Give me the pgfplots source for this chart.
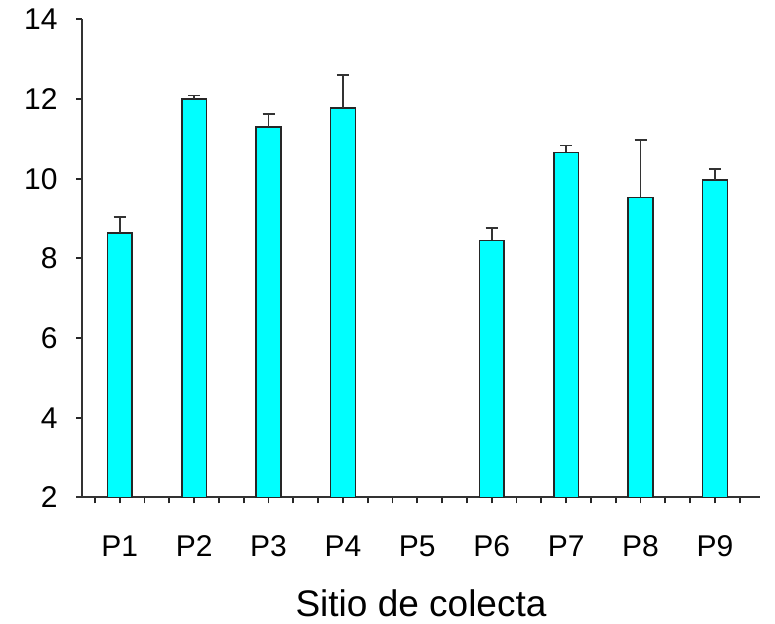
\documentclass[border=0pt]{standalone}
\usepackage{pgfplots}
\pgfplotsset{compat=1.18}
\usepackage{fontspec}
\setmainfont{Liberation Sans}
\definecolor{barcyan}{RGB}{0,255,255}
\begin{document}
\begin{tikzpicture}
\path[use as bounding box] (-41pt,-63.25pt) rectangle (346.5pt,248.75pt);
\begin{axis}[
  scale only axis,
  width=339pt, height=239.1pt,
  xmin=0.493, xmax=9.606,
  ymin=2, ymax=14,
  axis x line*=bottom, axis y line*=left,
  axis line style={-, line width=1pt, black!80},
  x axis line style={shorten <=-3pt},
  ybar, bar width=0.333,
  xtick={1,...,9},
  xticklabels={P1,P2,P3,P4,P5,P6,P7,P8,P9},
  minor xtick={0.6667,1.3333,1.6667,2.3333,2.6667,3.3333,3.6667,4.3333,4.6667,5.3333,5.6667,6.3333,6.6667,7.3333,7.6667,8.3333,8.6667,9.3333},
  ytick={2,4,...,14},
  tick align=outside,
  major tick length=3pt, minor tick length=3pt,
  every tick/.style={line width=0.9pt, black!85},
  every minor tick/.style={line width=0.9pt, black!85},
  /pgf/number format/assume math mode=true,
  ticklabel style={font=\fontsize{15}{18}\selectfont, text=black},
  xticklabel style={anchor=base, yshift=-26.5pt},
  yticklabel style={anchor=east, inner sep=0pt, xshift=-9pt},
  xlabel={Sitio de colecta},
  xlabel style={font=\fontsize{18.5}{22}\selectfont, at={(rel axis cs:0.5,0)}, anchor=base, yshift=-59.5pt},
]
\addplot[fill=barcyan, draw=black!85, line width=0.8pt,
  error bars/.cd, y dir=plus, y explicit,
  error bar style={line width=0.85pt, black!80},
  error mark options={rotate=90, mark size=3pt, line width=0.85pt, black!80}]
  coordinates {
  (1,8.63) +- (0,0.41)
  (2,12.00) +- (0,0.09)
  (3,11.30) +- (0,0.33)
  (4,11.78) +- (0,0.82)
  (6,8.45) +- (0,0.32)
  (7,10.66) +- (0,0.17)
  (8,9.53) +- (0,1.44)
  (9,9.96) +- (0,0.28)
  };
\end{axis}
\end{tikzpicture}
\end{document}
